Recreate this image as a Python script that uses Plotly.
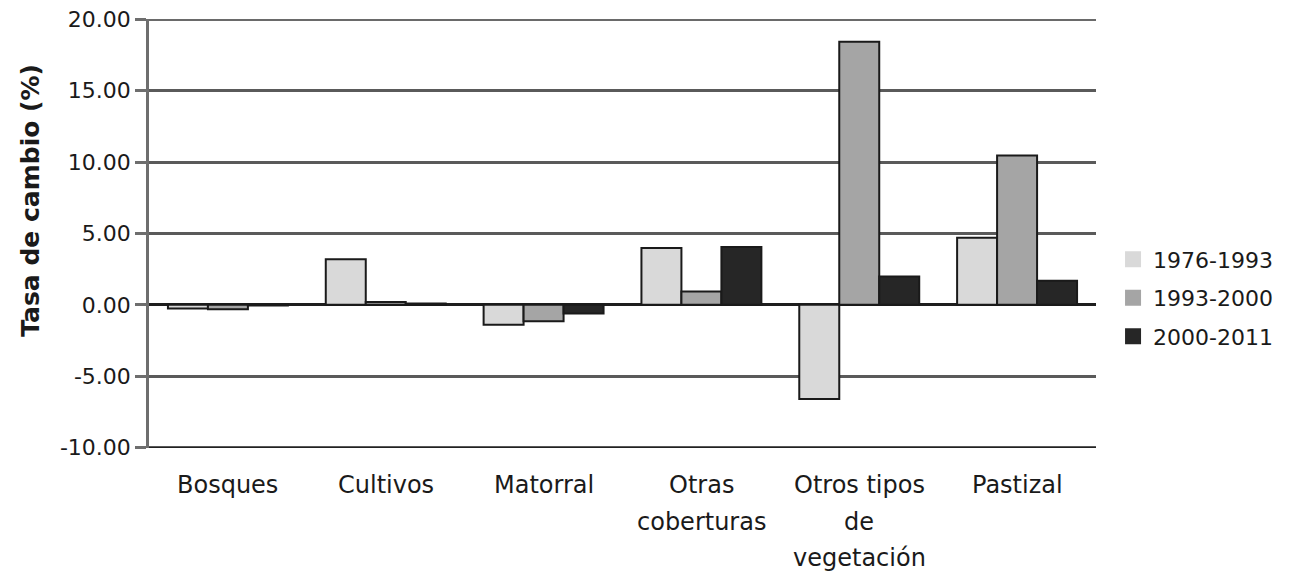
import plotly.graph_objects as go

categories = ["Bosques", "Cultivos", "Matorral", "Otras coberturas", "Otros tipos de vegetación", "Pastizal"]
category_lines = [["Bosques"], ["Cultivos"], ["Matorral"], ["Otras", "coberturas"], ["Otros tipos", "de", "vegetación"], ["Pastizal"]]
series_names = ["1976-1993", "1993-2000", "2000-2011"]
v_1976_1993 = [-0.25, 3.2, -1.4, 3.98, -6.6, 4.7]
v_1993_2000 = [-0.3, 0.2, -1.15, 0.93, 18.43, 10.47]
v_2000_2011 = [-0.05, 0.1, -0.6, 4.05, 1.99, 1.69]
series_values = [v_1976_1993, v_1993_2000, v_2000_2011]
colors = ["#d9d9d9", "#a5a5a5", "#262626"]
y_tickvals = [-10, -5, 0, 5, 10, 15, 20]
y_ticktext = ["-10.00", "-5.00", "0.00", "5.00", "10.00", "15.00", "20.00"]
y_title = "Tasa de cambio (%)"

FONT = "DejaVu Sans"
TXT = "#1a1a1a"

fig = go.Figure()
for name, vals, col in zip(series_names, series_values, colors):
    fig.add_trace(go.Bar(
        x=categories, y=vals, name=name, showlegend=False,
        marker=dict(color=col, line=dict(color="#1a1a1a", width=2)),
    ))
for i, (name, col) in enumerate(zip(series_names, colors)):
    fig.add_trace(go.Scatter(
        x=[None], y=[None], mode="markers", name=name, legendgroup=f"g{i}",
        marker=dict(symbol="square", size=16, color=col, line=dict(width=0)),
    ))

annotations = []
for cat, lines in zip(categories, category_lines):
    for j, line in enumerate(lines):
        annotations.append(dict(
            x=cat, xref="x", y=0, yref="paper", yanchor="middle",
            text=line, showarrow=False, yshift=-37 - 36.5 * j,
            font=dict(family=FONT, size=24, color=TXT),
        ))
annotations.append(dict(
    x=-0.126, xref="paper", y=0.578, yref="paper", xanchor="center", yanchor="middle",
    text=f"<b>{y_title}</b>", textangle=-90, showarrow=False,
    font=dict(family=FONT, size=25, color=TXT),
))

# gridlines at the two ends of the value axis (plotly skips them at the range edges)
edge_lines = [
    dict(type="line", xref="paper", x0=0, x1=1, yref="y", y0=y_tickvals[-1], y1=y_tickvals[-1],
         line=dict(color="#6a6a6a", width=3), layer="below"),
    dict(type="line", xref="paper", x0=0, x1=1, yref="y", y0=y_tickvals[0], y1=y_tickvals[0],
         line=dict(color="#222222", width=2.5), layer="below"),
]

fig.update_layout(
    width=1286, height=563,
    margin=dict(l=141, r=198, t=11, b=123, autoexpand=False),
    plot_bgcolor="white", paper_bgcolor="white",
    barmode="group", bargap=0.24, bargroupgap=0,
    font=dict(family=FONT, color=TXT),
    showlegend=True,
    legend=dict(
        x=1.018, xanchor="left", y=0.35, yanchor="middle",
        font=dict(family=FONT, size=22, color=TXT),
        tracegroupgap=7, traceorder="grouped",
        itemwidth=30,
    ),
    annotations=annotations,
    shapes=edge_lines,
    xaxis=dict(showticklabels=False, showgrid=False, ticks="", showline=False, zeroline=False, automargin=False),
    yaxis=dict(
        range=[-10.03, 20.03], tickvals=y_tickvals, ticktext=y_ticktext, automargin=False,
        ticklabeloverflow="allow",
        tickfont=dict(family=FONT, size=22, color=TXT),
        showgrid=True, gridcolor="#5a5a5a", gridwidth=2.5,
        zeroline=True, zerolinecolor="#1e1e1e", zerolinewidth=2.5,
        showline=True, linecolor="#6e6e6e", linewidth=2.5,
        ticks="outside", ticklen=11, tickwidth=2.5, tickcolor="#6e6e6e",
    ),
)

fig.write_html("out.html")
